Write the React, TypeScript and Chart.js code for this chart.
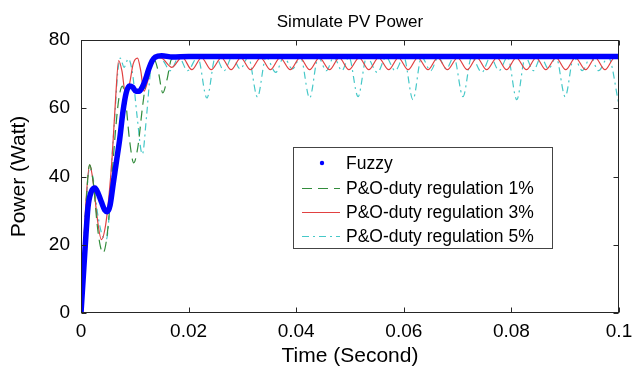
import React, { useEffect, useRef } from 'react';
import { Chart, registerables } from 'chart.js';

Chart.register(...registerables);

const chartTitle = 'Simulate PV Power';
const xAxisTitle = 'Time (Second)';
const yAxisTitle = 'Power (Watt)';
const seriesNames = ['Fuzzy', 'P&O-duty regulation 1%', 'P&O-duty regulation 3%', 'P&O-duty regulation 5%'];
const xTickLabels = ['0', '0.02', '0.04', '0.06', '0.08', '0.1'];
const yTickLabels = ['0', '20', '40', '60', '80'];

// Fuzzy controller
const fuzzyT = [0, 0.0004, 0.0008, 0.0013, 0.0019, 0.0026, 0.0032, 0.0038, 0.0044, 0.0049, 0.0054, 0.0060, 0.0066, 0.0072, 0.0078, 0.0084, 0.0090, 0.0096, 0.0102, 0.0108, 0.0114, 0.0120, 0.0126, 0.0132, 0.0138, 0.0150, 0.0170, 0.0200, 0.0400, 0.0600, 0.0800, 0.1000];
const fuzzyP = [0, 10, 20, 31, 35.5, 36.6, 35, 32.5, 30.2, 29.7, 31.5, 38, 44.5, 51, 59, 64.5, 66.5, 66.2, 65, 65, 66.2, 68.5, 71.5, 73.8, 75, 75.4, 75, 75.2, 75.2, 75.2, 75.2, 75.2];

// P&O duty regulation 1%
const po1T = [0, 0.0004, 0.0009, 0.0016, 0.0023, 0.0030, 0.0036, 0.0041, 0.0047, 0.0053, 0.0059, 0.0065, 0.0071, 0.0077, 0.0083, 0.0090, 0.0098, 0.0106, 0.0114, 0.0122, 0.0130, 0.0136, 0.0144, 0.0152, 0.0160, 0.0168, 0.0180, 0.0250, 0.0350, 0.0450, 0.0550, 0.0650, 0.0750, 0.0850, 0.0950, 0.1000];
const po1P = [0, 16, 31, 43.4, 38, 26, 19.5, 17.6, 21, 30, 43, 55, 63.5, 66.5, 62, 51, 44, 49, 60, 69, 73.5, 74.3, 70.5, 64.5, 68.5, 74.3, 75, 74.8, 74.8, 74.8, 74.8, 74.8, 74.8, 74.8, 74.8, 74.8];

// P&O duty regulation 3%
const po3T = [0, 0.0004, 0.0009, 0.0016, 0.0023, 0.0030, 0.0038, 0.0046, 0.0053, 0.0058, 0.0064, 0.0070, 0.0076, 0.0083, 0.0090, 0.0097, 0.0105, 0.0111, 0.0117, 0.0124, 0.0133, 0.0142, 0.0152, 0.0169, 0.0188,
  0.0206, 0.0224, 0.0242, 0.0261, 0.0279, 0.0297, 0.0315, 0.0334, 0.0352, 0.0370, 0.0389, 0.0407, 0.0425, 0.0443, 0.0462, 0.0480, 0.0498, 0.0517, 0.0535, 0.0553, 0.0572, 0.0590, 0.0608, 0.0626, 0.0645, 0.0663, 0.0681, 0.0700, 0.0718, 0.0736, 0.0754, 0.0773, 0.0791, 0.0809, 0.0828, 0.0846, 0.0864, 0.0883, 0.0901, 0.0919, 0.0938, 0.0956, 0.0974, 0.0992, 0.1000];
const po3P = [0, 16, 32, 43.4, 38, 28, 21.5, 26, 36, 46, 62, 74, 71, 64, 67, 73, 74.7, 71, 65, 68, 74, 75, 74.5, 72, 75,
  71.3, 74.8, 71.3, 74.8, 71.3, 74.8, 71.3, 74.8, 71.3, 74.8, 71.3, 74.8, 71.3, 74.8, 71.3, 74.8, 71.3, 74.8, 71.3, 74.8, 71.3, 74.8, 71.3, 74.8, 71.3, 74.8, 71.3, 74.8, 71.3, 74.8, 71.3, 74.8, 71.3, 74.8, 71.3, 74.8, 71.3, 74.8, 71.3, 74.8, 71.3, 74.8, 71.3, 74.8, 74.5];

// P&O duty regulation 5%
const po5T = [0, 0.0004, 0.0009, 0.0016, 0.0023, 0.0031, 0.0039, 0.0047, 0.0052, 0.0057, 0.0063, 0.0068, 0.0073, 0.0080, 0.0088, 0.0096, 0.0104, 0.0114, 0.0122, 0.0130, 0.0136, 0.0150, 0.0166, 0.0182, 0.0198, 0.0217,
  0.0234, 0.0250, 0.0266, 0.0281, 0.0296, 0.0311,
  0.0328, 0.0344, 0.0362, 0.0377, 0.0393, 0.0408,
  0.0425, 0.0441, 0.0456, 0.0470, 0.0485, 0.0498,
  0.0515, 0.0531, 0.0551, 0.0567, 0.0584, 0.0600,
  0.0617, 0.0633, 0.0650, 0.0664, 0.0679, 0.0693,
  0.0710, 0.0726, 0.0745, 0.0761, 0.0777, 0.0793,
  0.0810, 0.0826, 0.0841, 0.0855, 0.0869, 0.0883,
  0.0900, 0.0916, 0.0932, 0.0947, 0.0962, 0.0980, 0.1000];
const po5P = [0, 16, 31, 42.5, 39, 29, 23, 21.5, 28, 44, 58, 70, 74.7, 72, 74.5, 70, 58, 46.5, 58, 72, 75, 74.5, 71, 75, 71, 75,
  63, 75, 71, 75, 71.5, 75,
  63.3, 75, 70.5, 75, 71.5, 75,
  63, 75, 71, 75, 71, 75,
  63.4, 75, 70.5, 75, 71, 75,
  62.5, 75, 71, 75, 71.5, 75,
  63.4, 75, 70.5, 75, 71, 75,
  62.5, 75, 71, 75, 71.5, 75,
  63.4, 75, 71, 75, 71, 75, 61];

const seriesColors = ['rgb(0,0,255)', 'rgb(50,140,60)', 'rgb(225,65,65)', 'rgb(70,200,200)'];
const seriesDash: number[][] = [[], [10, 6], [], [7, 4, 2, 4]];

const FONT = '"Liberation Sans", Arial, Helvetica, sans-serif';

function toPoints(t: number[], p: number[]) {
  return t.map((x, i) => ({ x, y: p[i] }));
}

const framePlugin = {
  id: 'matlabFrame',
  afterDatasetsDraw(chart: any) {
    const { ctx, chartArea: a, scales } = chart;
    ctx.save();
    ctx.strokeStyle = '#262626';
    ctx.lineWidth = 1;
    const L = Math.round(a.left) + 0.5;
    const T = Math.round(a.top) + 0.5;
    const R = Math.round(a.right) - 0.5;
    const B = Math.round(a.bottom) - 0.5;
    ctx.strokeRect(L, T, R - L, B - T);
    ctx.beginPath();
    scales.x.ticks.forEach((tk: any) => {
      const px = Math.round(scales.x.getPixelForValue(tk.value)) + 0.5;
      ctx.moveTo(px, B); ctx.lineTo(px, B - 5);
      ctx.moveTo(px, T); ctx.lineTo(px, T + 5);
    });
    scales.y.ticks.forEach((tk: any) => {
      const py = Math.round(scales.y.getPixelForValue(tk.value)) + 0.5;
      ctx.moveTo(L, py); ctx.lineTo(L + 5, py);
      ctx.moveTo(R, py); ctx.lineTo(R - 5, py);
    });
    ctx.stroke();

    ctx.fillStyle = '#000';
    ctx.font = `17px ${FONT}`;
    ctx.textAlign = 'center';
    ctx.textBaseline = 'middle';
    ctx.fillText(chartTitle, (a.left + a.right) / 2, 22);

    const bx = 293.5, by = 147.5, bw = 259, bh = 101;
    ctx.fillStyle = '#fff';
    ctx.fillRect(bx, by, bw, bh);
    ctx.strokeStyle = '#444';
    ctx.strokeRect(bx, by, bw, bh);
    const rows = [163, 188, 212, 236];
    ctx.font = `17.5px ${FONT}`;
    ctx.textAlign = 'left';
    seriesNames.forEach((name, i) => {
      const y = rows[i];
      if (i === 0) {
        ctx.fillStyle = seriesColors[0];
        ctx.beginPath();
        ctx.arc(322, y, 2.2, 0, Math.PI * 2);
        ctx.fill();
      } else {
        ctx.strokeStyle = seriesColors[i];
        ctx.lineWidth = 1.2;
        ctx.setLineDash(seriesDash[i]);
        ctx.beginPath();
        ctx.moveTo(302, y + 0.5);
        ctx.lineTo(340, y + 0.5);
        ctx.stroke();
        ctx.setLineDash([]);
      }
      ctx.fillStyle = '#000';
      ctx.fillText(name, 346, y + 1);
    });
    ctx.restore();
  },
};

export default function App() {
  const ref = useRef<HTMLCanvasElement>(null);
  useEffect(() => {
    document.body.style.margin = '0';
    const canvas = ref.current!;
    const allT = [fuzzyT, po1T, po3T, po5T];
    const allP = [fuzzyP, po1P, po3P, po5P];
    const chart = new Chart(canvas, {
      type: 'line',
      data: {
        datasets: seriesNames.map((name, i) => ({
          label: name,
          data: toPoints(allT[i], allP[i]),
          borderColor: seriesColors[i],
          backgroundColor: seriesColors[i],
          borderWidth: i === 0 ? 5.5 : 1.2,
          borderDash: seriesDash[i],
          pointRadius: 0,
          fill: false,
          cubicInterpolationMode: 'monotone' as const,
        })),
      },
      options: {
        responsive: false,
        animation: false,
        layout: { padding: { top: 40, right: 13, left: 0, bottom: 0 } },
        plugins: {
          legend: { display: false },
          title: { display: false },
          tooltip: { enabled: false },
        },
        scales: {
          x: {
            type: 'linear',
            min: 0,
            max: 0.1,
            ticks: {
              stepSize: 0.02,
              color: '#000',
              padding: 7,
              maxRotation: 0,
              autoSkip: false,
              font: { family: FONT, size: 19 },
              callback: (_v: any, idx: number) => xTickLabels[idx],
            },
            grid: { display: false, drawTicks: false },
            border: { display: false },
            title: {
              display: true,
              text: xAxisTitle,
              color: '#000',
              font: { family: FONT, size: 21 },
              padding: { top: 2, bottom: 2 },
            },
            afterFit: (s: any) => { s.height = 58; s.paddingLeft = 0; s.paddingRight = 0; },
          },
          y: {
            min: 0,
            max: 80,
            ticks: {
              stepSize: 20,
              color: '#000',
              padding: 11,
              font: { family: FONT, size: 19 },
              callback: (_v: any, idx: number) => yTickLabels[idx],
            },
            grid: { display: false, drawTicks: false },
            border: { display: false },
            title: {
              display: true,
              text: yAxisTitle,
              color: '#000',
              font: { family: FONT, size: 21 },
              padding: { top: 7, bottom: 7 },
            },
            afterFit: (s: any) => { s.width = 81; s.paddingTop = 0; s.paddingBottom = 0; },
          },
        },
      },
      plugins: [framePlugin],
    });
    return () => chart.destroy();
  }, []);
  return <canvas ref={ref} width={632} height={371} style={{ display: 'block' }} />;
}
